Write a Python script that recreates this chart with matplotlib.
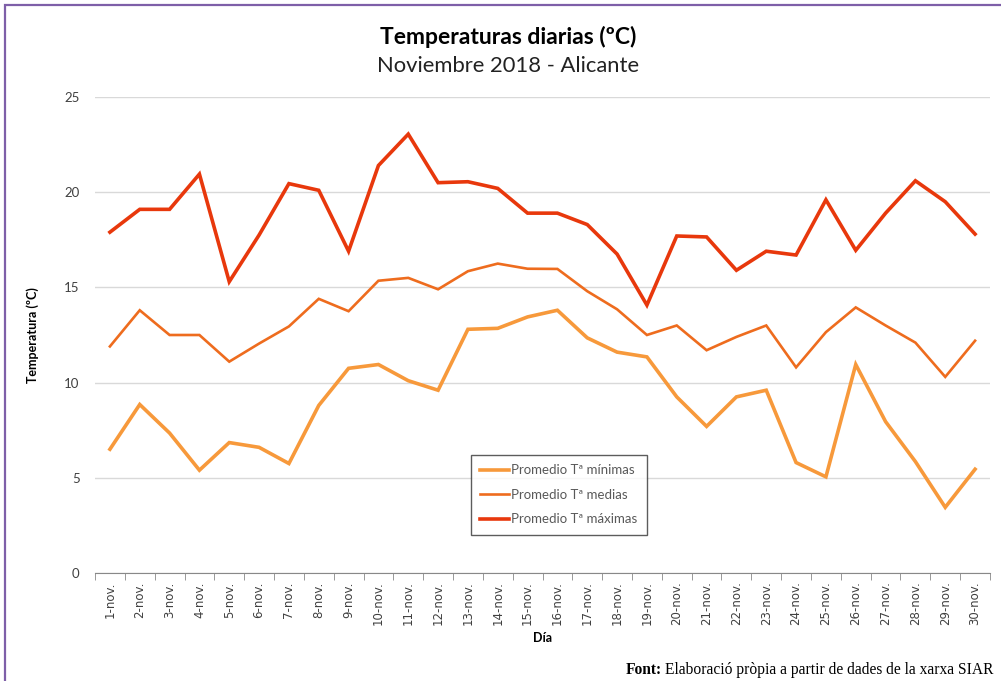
import numpy as np
import matplotlib
matplotlib.use("Agg")
import matplotlib.pyplot as plt
from matplotlib.patches import Rectangle

# daily values
days = [f"{d}-nov." for d in range(1, 31)]
t_min = [6.5, 8.85, 7.35, 5.4, 6.85, 6.6, 5.75, 8.8, 10.75, 10.95,
         10.1, 9.6, 12.8, 12.85, 13.45, 13.8, 12.35, 11.6, 11.35, 9.25,
         7.7, 9.25, 9.6, 5.8, 5.05, 10.95, 7.95, 5.85, 3.45, 5.45]
t_med = [11.9, 13.8, 12.5, 12.5, 11.1, 12.05, 12.95, 14.4, 13.75, 15.35,
         15.5, 14.9, 15.85, 16.25, 15.98, 15.97, 14.8, 13.85, 12.5, 13.0,
         11.7, 12.4, 13.0, 10.8, 12.65, 13.95, 13.0, 12.1, 10.3, 12.2]
t_max = [17.9, 19.1, 19.1, 20.95, 15.3, 17.75, 20.45, 20.1, 16.9, 21.4,
         23.05, 20.5, 20.55, 20.2, 18.9, 18.9, 18.3, 16.75, 14.07, 17.7,
         17.65, 15.9, 16.9, 16.7, 19.6, 16.95, 18.9, 20.6, 19.5, 17.8]

col_min = "#F7993B"
col_med = "#EE6C1E"
col_max = "#E8380C"

fig = plt.figure(figsize=(10.01, 6.81), dpi=100)
ax = fig.add_axes([95 / 1001, 1 - 573 / 681, 895 / 1001, 476 / 681])

x = np.arange(len(days))
ax.plot(x, t_min, color=col_min, lw=2.6, label="Promedio Tª mínimas", solid_joinstyle="miter")
ax.plot(x, t_med, color=col_med, lw=1.9, label="Promedio Tª medias", solid_joinstyle="miter")
ax.plot(x, t_max, color=col_max, lw=2.6, label="Promedio Tª máximas", solid_joinstyle="miter")

ax.set_xlim(-0.5, len(days) - 0.5)
ax.set_ylim(0, 25)
ax.set_yticks([0, 5, 10, 15, 20, 25])
ax.tick_params(axis="y", length=0, pad=11, labelsize=9.5, labelcolor="#404040")
for lab in ax.get_yticklabels():
    lab.set_family("Lato")
ax.yaxis.grid(True, color="#D9D9D9", lw=1)
ax.set_axisbelow(True)

ax.set_xticks(x)
ax.set_xticklabels(days, rotation=90, fontsize=8.5, color="#404040", family="DejaVu Sans")
ax.set_xticks(np.arange(-0.5, len(days)), minor=True)
ax.tick_params(axis="x", which="major", length=0, pad=6)
ax.tick_params(axis="x", which="minor", length=5, color="#888888")

for side in ["top", "right", "left"]:
    ax.spines[side].set_visible(False)
ax.spines["bottom"].set_color("#888888")

ax.set_xlabel("Día", fontsize=9, fontweight="bold", family="Lato", labelpad=5)
ax.set_ylabel("Temperatura (ºC)", fontsize=9, fontweight="bold", family="Lato", labelpad=18)

fig.text(0.508, 1 - 37 / 681, "Temperaturas diarias (ºC)", ha="center", va="center",
         fontsize=16.5, fontweight="bold", family="Lato")
fig.text(0.508, 1 - 66 / 681, "Noviembre 2018 - Alicante", ha="center", va="center",
         fontsize=15.8, family="Lato", color="#222222")

leg = ax.legend(loc="upper left", bbox_to_anchor=((471 - 95) / 895, (573 - 455) / 476),
                borderaxespad=0, frameon=True, fancybox=False, handlelength=2.2,
                handletextpad=0.15, borderpad=0.7, labelspacing=0.95,
                prop={"family": "Lato", "size": 9.5})
leg.get_frame().set_edgecolor("#333333")
leg.get_frame().set_linewidth(1)
for t in leg.get_texts():
    t.set_color("#595959")

fig.text(626 / 1001, 1 - 670 / 681, "Font:", fontsize=11.2, fontweight="bold",
         family="Liberation Serif", va="center")
fig.text(665 / 1001, 1 - 670 / 681, "Elaboració pròpia a partir de dades de la xarxa SIAR",
         fontsize=11.2, family="Liberation Serif", va="center")

# purple frame cut at the left and top of the picture
fig.patches.append(Rectangle((5 / 1001, -0.05), 1.1, 1 - 5 / 681 + 0.05, transform=fig.transFigure,
                             fill=False, edgecolor="#7E5FA8", lw=1.6))

fig.savefig("out.png", dpi=100)
